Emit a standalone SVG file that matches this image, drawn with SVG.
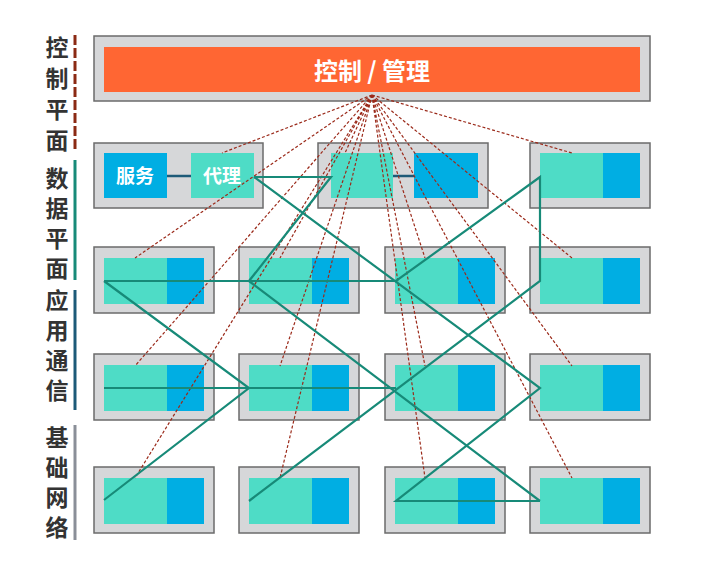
<svg xmlns="http://www.w3.org/2000/svg" width="706" height="570" viewBox="0 0 706 570">
<style>
.o{fill:#d6d7d9;stroke:#6b6b6b;stroke-width:1.5}
.t{fill:#4edcc6}
.b{fill:#00aee3}
.lab{font-family:"Noto Sans CJK SC",sans-serif;font-weight:bold;font-size:23px;fill:#333;text-anchor:middle}
.w{font-family:"Noto Sans CJK SC",sans-serif;font-weight:bold;fill:#fff;text-anchor:middle}
.d{stroke:#9b2a1a;stroke-width:1.2;stroke-dasharray:3 2;fill:none}
.s{stroke:#178a78;stroke-width:2.2;fill:none}
</style>
<rect width="706" height="570" fill="#fff"/>
<g id="labels">
<text class="lab" x="57" y="56">控</text><text class="lab" x="57" y="87">制</text><text class="lab" x="57" y="118">平</text><text class="lab" x="57" y="149">面</text>
<text class="lab" x="57" y="187">数</text><text class="lab" x="57" y="217">据</text><text class="lab" x="57" y="247">平</text><text class="lab" x="57" y="277">面</text>
<text class="lab" x="57" y="309">应</text><text class="lab" x="57" y="339">用</text><text class="lab" x="57" y="369">通</text><text class="lab" x="57" y="399">信</text>
<text class="lab" x="57" y="446">基</text><text class="lab" x="57" y="476">础</text><text class="lab" x="57" y="506">网</text><text class="lab" x="57" y="536">络</text>
<line x1="75" y1="35" x2="75" y2="150" stroke="#8b2a14" stroke-width="3" stroke-dasharray="10 3"/>
<line x1="75" y1="160" x2="75" y2="280" stroke="#178a78" stroke-width="3"/>
<line x1="75" y1="290" x2="75" y2="410" stroke="#1d5a78" stroke-width="3"/>
<line x1="75" y1="425" x2="75" y2="540" stroke="#8a8f98" stroke-width="3"/>
</g>
<g id="control">
<rect class="o" x="94" y="36" width="556" height="65"/>
<rect x="104" y="47" width="536" height="45" fill="#ff6633"/>
<text class="w" x="372" y="80" font-size="24">控制 / 管理</text>
</g>
<g id="n00"><rect class="o" x="94" y="143" width="169" height="65"/><rect class="b" x="104" y="153" width="63" height="45"/><rect class="t" x="191" y="153" width="63" height="45"/><line x1="167" y1="176" x2="191" y2="176" stroke="#1d5a78" stroke-width="2.5"/><text class="w" x="135" y="183" font-size="19">服务</text><text class="w" x="222" y="183" font-size="19">代理</text></g>
<g id="n01"><rect class="o" x="318" y="143" width="170" height="65"/><rect class="t" x="331" y="153" width="62" height="45"/><rect class="b" x="414" y="153" width="64" height="45"/><line x1="393" y1="176" x2="414" y2="176" stroke="#1d5a78" stroke-width="2.5"/></g>
<g id="n03"><rect class="o" x="530" y="143" width="120" height="65"/><rect class="t" x="540" y="153" width="63" height="45"/><rect class="b" x="603" y="153" width="37" height="45"/></g>
<g id="grid">
<g id="n10"><rect class="o" x="94" y="247" width="120" height="66"/><rect class="t" x="104" y="258" width="63" height="46"/><rect class="b" x="167" y="258" width="37" height="46"/></g>
<g id="n11"><rect class="o" x="239" y="247" width="120" height="66"/><rect class="t" x="249" y="258" width="63" height="46"/><rect class="b" x="312" y="258" width="37" height="46"/></g>
<g id="n12"><rect class="o" x="385" y="247" width="120" height="66"/><rect class="t" x="395" y="258" width="63" height="46"/><rect class="b" x="458" y="258" width="37" height="46"/></g>
<g id="n13"><rect class="o" x="530" y="247" width="120" height="66"/><rect class="t" x="540" y="258" width="63" height="46"/><rect class="b" x="603" y="258" width="37" height="46"/></g>
<g id="n20"><rect class="o" x="94" y="354" width="120" height="66"/><rect class="t" x="104" y="365" width="63" height="46"/><rect class="b" x="167" y="365" width="37" height="46"/></g>
<g id="n21"><rect class="o" x="239" y="354" width="120" height="66"/><rect class="t" x="249" y="365" width="63" height="46"/><rect class="b" x="312" y="365" width="37" height="46"/></g>
<g id="n22"><rect class="o" x="385" y="354" width="120" height="66"/><rect class="t" x="395" y="365" width="63" height="46"/><rect class="b" x="458" y="365" width="37" height="46"/></g>
<g id="n23"><rect class="o" x="530" y="354" width="120" height="66"/><rect class="t" x="540" y="365" width="63" height="46"/><rect class="b" x="603" y="365" width="37" height="46"/></g>
<g id="n30"><rect class="o" x="94" y="467" width="120" height="66"/><rect class="t" x="104" y="478" width="63" height="46"/><rect class="b" x="167" y="478" width="37" height="46"/></g>
<g id="n31"><rect class="o" x="239" y="467" width="120" height="66"/><rect class="t" x="249" y="478" width="63" height="46"/><rect class="b" x="312" y="478" width="37" height="46"/></g>
<g id="n32"><rect class="o" x="385" y="467" width="120" height="66"/><rect class="t" x="395" y="478" width="63" height="46"/><rect class="b" x="458" y="478" width="37" height="46"/></g>
<g id="n33"><rect class="o" x="530" y="467" width="120" height="66"/><rect class="t" x="540" y="478" width="63" height="46"/><rect class="b" x="603" y="478" width="37" height="46"/></g>
</g>
<g id="connectors">
<path class="d" d="M372 95L222 153M372 95L345 153M372 95L572 153M372 95L135 258M372 95L280 258M372 95L425 258M372 95L572 258M372 95L135 366M372 95L280 366M372 95L425 366M372 95L572 366M372 95L135 478M372 95L280 478M372 95L425 478M372 95L572 478"/>
<path class="s" d="M254 177H331L249 281M254 177L540 388L396 501H540M104 281H396L540 177V281L249 501M104 281L249 388L104 500M104 388H396M249 281L540 501"/>
</g>
</svg>
